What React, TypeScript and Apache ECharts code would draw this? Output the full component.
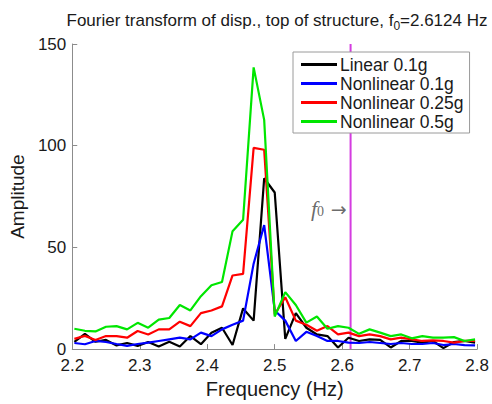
import React, { useEffect, useRef } from "react";
import * as echarts from "echarts";

const freqs = [
  2.203125, 2.21875, 2.234375, 2.25, 2.265625, 2.28125, 2.296875, 2.3125, 2.328125, 2.34375,
  2.359375, 2.375, 2.390625, 2.40625, 2.421875, 2.4375, 2.453125, 2.46875, 2.484375, 2.5,
  2.515625, 2.53125, 2.546875, 2.5625, 2.578125, 2.59375, 2.609375, 2.625, 2.640625, 2.65625,
  2.671875, 2.6875, 2.703125, 2.71875, 2.734375, 2.75, 2.765625, 2.78125, 2.796875,
];

const linear01 = [
  3.5, 7.5, 3.6, 4.5, 1.8, 3, 1.6, 3.5, 1.3, 3.6,
  1.3, 6.4, 2.4, 8, 10.5, 2, 20, 14, 84, 77,
  5, 17.7, 10.5, 7.2, 6.4, 0.8, 5.6, 4, 4.8, 4.5,
  0.8, 4, 4, 3.2, 4, 0.5, 3.5, 4, 3.2,
];

const nonlinear01 = [
  3, 2.4, 4, 3.5, 2.5, 1.6, 2.5, 3.2, 4, 4.8,
  5.6, 4.8, 8.1, 6.4, 9.7, 12, 14, 42, 61, 19,
  14, 4, 8.5, 6.4, 4, 4, 3.2, 3, 3.5, 3,
  2.5, 3, 2.5, 2.5, 3, 2, 2.5, 2, 1.8,
];

const nonlinear025 = [
  5, 6.5, 4.5, 6.4, 6.4, 5.6, 8.9, 7.2, 9.7, 9.7,
  13.5, 11.3, 17.7, 19, 21, 36.2, 37, 98.9, 98, 17,
  25.5, 14, 12, 9, 11.3, 7.2, 8.1, 6.4, 7.2, 6.4,
  4.8, 5.6, 4.8, 4, 4.3, 4, 3.2, 4, 4,
];

const nonlinear05 = [
  10, 9, 8.7, 11, 11.3, 9.7, 12.9, 10.5, 14.5, 15.3,
  21.7, 19, 26, 31.4, 33, 58, 63.6, 138.5, 112.7, 16,
  28, 21.7, 13, 16, 10, 11.3, 10.5, 7.5, 9.7, 8.1,
  6.4, 7.2, 5.3, 6.4, 5.6, 5.6, 5.9, 4, 4.8,
];

const seriesNames = ["Linear 0.1g", "Nonlinear 0.1g", "Nonlinear 0.25g", "Nonlinear 0.5g"];
const seriesColors = ["#000000", "#0000ff", "#ff0000", "#00e600"];
const f0 = 2.6124;
const xTicks = [2.2, 2.3, 2.4, 2.5, 2.6, 2.7, 2.8];
const yTicks = [0, 50, 100, 150];

const FONT = "'Liberation Sans', Arial, Helvetica, sans-serif";
const SERIF = "'Liberation Serif', 'DejaVu Serif', serif";

export default function App() {
  const ref = useRef<HTMLDivElement>(null);
  useEffect(() => {
    if (!ref.current) return;
    const chart = echarts.init(ref.current, undefined, { renderer: "svg" });
    const allData = [linear01, nonlinear01, nonlinear025, nonlinear05];
    const lineSeries = allData.map((vals, i) => ({
      name: seriesNames[i],
      type: "line",
      data: freqs.map((f, j) => [f, vals[j]]),
      symbol: "none",
      lineStyle: { color: seriesColors[i], width: 2.2 },
      itemStyle: { color: seriesColors[i] },
      z: 3 + i,
    }));
    chart.setOption({
      animation: false,
      textStyle: { fontFamily: FONT },
      title: {
        text: "Fourier transform of disp., top of structure, f{s|0}=2.6124 Hz",
        left: 272,
        textAlign: "center",
        top: 3,
        textStyle: {
          fontFamily: FONT,
          fontSize: 17,
          fontWeight: "normal",
          color: "#1a1a1a",
          rich: {
            s: { fontFamily: FONT, fontSize: 12, color: "#1a1a1a", padding: [12, 0, 0, 0] },
          },
        },
      },
      legend: {
        data: seriesNames,
        orient: "vertical",
        left: 293,
        top: 52,
        padding: [3, 6, 2, 8],
        itemGap: 0,
        itemWidth: 36,
        itemHeight: 3,
        icon: "rect",
        backgroundColor: "#ffffff",
        borderColor: "#9a9a9a",
        borderWidth: 1,
        textStyle: { fontFamily: FONT, fontSize: 17.5, lineHeight: 19, color: "#1a1a1a", padding: [0, 0, 0, -2] },
        z: 20,
      },
      grid: { left: 68, right: 14, top: 44, bottom: 49 },
      xAxis: {
        type: "value",
        min: xTicks[0],
        max: xTicks[xTicks.length - 1],
        interval: 0.1,
        name: "Frequency (Hz)",
        nameLocation: "middle",
        nameGap: 25,
        nameTextStyle: { fontFamily: FONT, fontSize: 20, color: "#1a1a1a" },
        axisLine: { show: true, lineStyle: { color: "#8c8c8c", width: 1 } },
        axisTick: { show: true, inside: true, length: 5, lineStyle: { color: "#8c8c8c" } },
        axisLabel: {
          fontFamily: FONT,
          fontSize: 17,
          color: "#1a1a1a",
          margin: 8,
          formatter: (v: number) => v.toFixed(1),
        },
        splitLine: { show: false },
      },
      yAxis: {
        type: "value",
        min: yTicks[0],
        max: yTicks[yTicks.length - 1],
        interval: 50,
        name: "Amplitude",
        nameLocation: "middle",
        nameGap: 32,
        nameRotate: 90,
        nameTextStyle: { fontFamily: FONT, fontSize: 19, color: "#1a1a1a" },
        axisLine: { show: true, lineStyle: { color: "#8c8c8c", width: 1 } },
        axisTick: { show: true, inside: true, length: 5, lineStyle: { color: "#8c8c8c" } },
        axisLabel: { fontFamily: FONT, fontSize: 17, color: "#1a1a1a", margin: 6 },
        splitLine: { show: false },
      },
      series: [
        {
          name: "f0line",
          type: "line",
          data: [
            [f0, yTicks[0]],
            [f0, yTicks[yTicks.length - 1]],
          ],
          symbol: "none",
          lineStyle: { color: "#d43ce0", width: 2 },
          silent: true,
          z: 2,
        },
        ...lineSeries,
        {
          name: "f0label",
          type: "scatter",
          data: [[f0, 69]],
          symbolSize: 0,
          silent: true,
          label: {
            show: true,
            position: "left",
            distance: 4,
            formatter: "{f|f}{s|0}  {a|→}",
            rich: {
              f: { fontFamily: SERIF, fontStyle: "italic", fontSize: 22, color: "#444" },
              s: { fontFamily: SERIF, fontSize: 14, color: "#444", padding: [6, 0, 0, 0] },
              a: { fontFamily: "'DejaVu Sans', sans-serif", fontSize: 19, color: "#444" },
            },
          },
        },
      ],
    });
    return () => chart.dispose();
  }, []);
  return (
    <div
      ref={ref}
      style={{ position: "fixed", left: 0, top: 0, width: 492, height: 404, background: "#fff" }}
    />
  );
}
